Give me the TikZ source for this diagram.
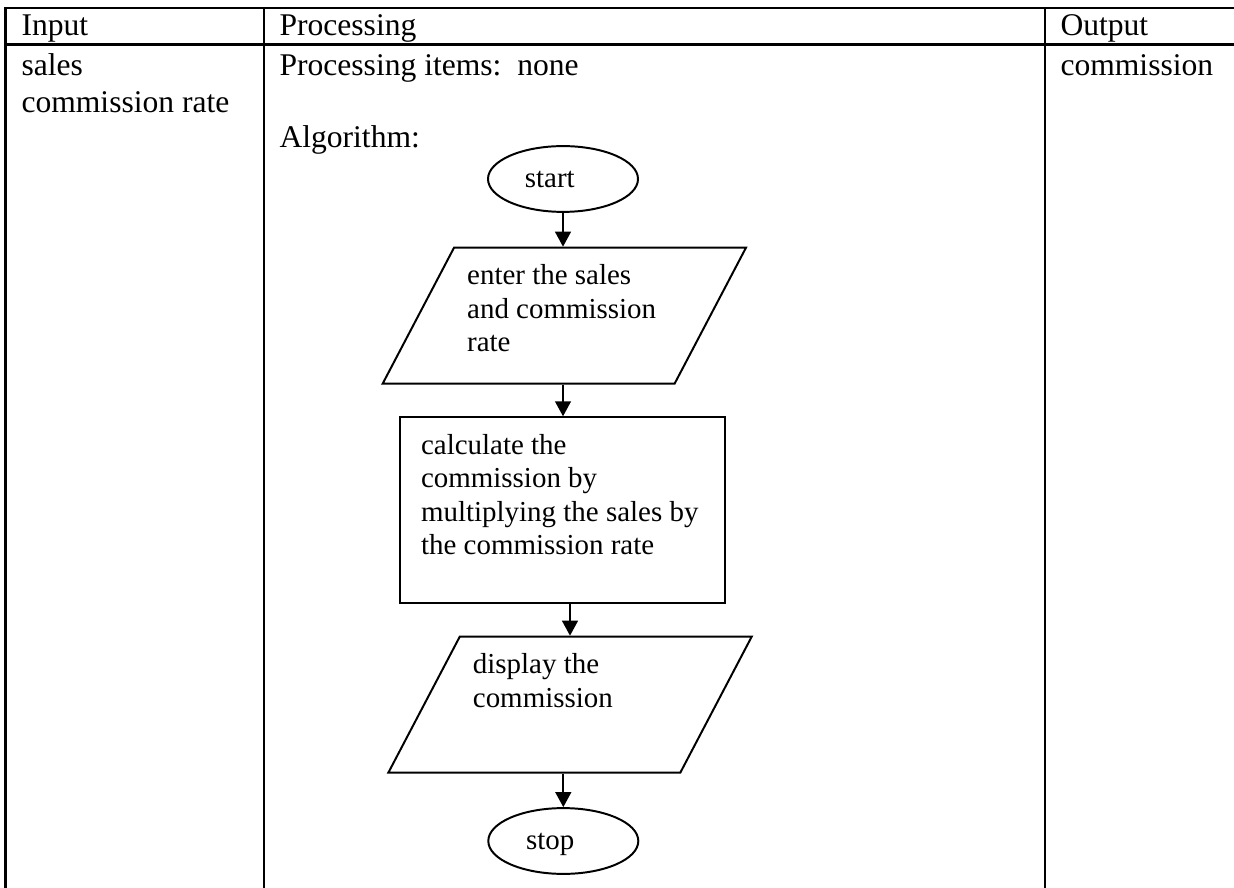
\documentclass[tikz,border=0pt]{standalone}
\usepackage{fontspec}
\setmainfont{Liberation Serif}
\usetikzlibrary{positioning, arrows.meta, shapes.geometric, calc}

% text area inside a flowchart box: height, width, lines
\newcommand{\boxtext}[3]{\parbox[c][#1][t]{#2}{\raggedright #3}}

\begin{document}
\begin{tikzpicture}[
    x=0.38pt, y=-0.38pt,
    tableline/.style={line width=1pt},
    cell/.style={
        anchor=base west,
        inner sep=0pt,
        font=\fontsize{12}{13.8}\selectfont
    },
    terminal/.style={
        ellipse,
        draw=black,
        line width=0.75pt,
        minimum width=57pt,
        minimum height=25pt,
        inner sep=0pt,
        text depth=0pt,
        font=\fontsize{11}{12.65}\selectfont
    },
    io/.style={
        trapezium,
        trapezium left angle=62.3,
        trapezium right angle=117.7,
        draw=black,
        line width=0.75pt,
        inner xsep=5pt,
        inner ysep=6.5pt,
        font=\fontsize{11}{12.65}\selectfont
    },
    process/.style={
        rectangle,
        draw=black,
        line width=0.75pt,
        inner xsep=8pt,
        inner ysep=6.5pt,
        font=\fontsize{11}{12.65}\selectfont
    },
    arrow/.style={-{Triangle[length=5.7pt, width=6pt]}, line width=0.75pt}
]
\useasboundingbox (0,0) rectangle (1234,888);

% === Table ===
\draw[tableline] (5.5,888) |- (1234,8);
\draw[tableline] (5.5,44.5) -- (1234,44.5);
\draw[tableline] (264,8) -- (264,888);
\draw[tableline] (1045,8) -- (1045,888);

\node[cell] (hdrin) at (21,36) {Input};
\node[cell] (hdrproc) at (279,36) {Processing};
\node[cell] (hdrout) at (1060,36) {Output};

\node[cell] (insales) at (21,76) {sales};
\node[cell] (inrate) at (21,112.5) {commission rate};
\node[cell] (items) at (279,76) {Processing items:\ \ none};
\node[cell] (algo) at (279,148) {Algorithm:};
\node[cell] (outcomm) at (1060,76) {commission};

% === Flowchart ===
\node[terminal] (start) at (563,179) {start\kern10pt};
\node[io] (enter) at (564.3,315.7)
    {\boxtext{38.7pt}{73.8pt}{enter the sales\\and commission\\rate}};
\node[process] (calc) at (562.5,510.3)
    {\boxtext{57.7pt}{107.5pt}{calculate the\\commission by\\multiplying the sales by\\the commission rate}};
\node[io] (disp) at (570,704.7)
    {\boxtext{38.7pt}{73.8pt}{display the\\commission}};
\node[terminal] (stop) at (563.3,841) {stop\kern10pt};

\draw[arrow] (start.south) -- (start.south |- enter.north);
\draw[arrow] (start |- enter.south) -- (start |- calc.north);
\draw[arrow] (disp.center |- calc.south) -- (disp.center |- disp.north);
\draw[arrow] (stop |- disp.south) -- (stop.north);

\end{tikzpicture}
\end{document}
